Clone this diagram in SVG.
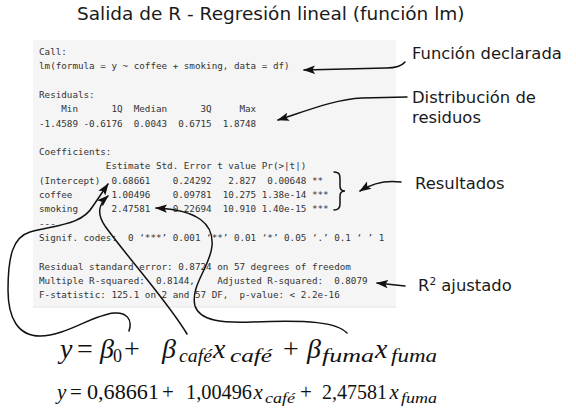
<svg xmlns="http://www.w3.org/2000/svg" width="576" height="417" viewBox="0 0 576 417">
<defs>
<marker id="ah" markerUnits="userSpaceOnUse" markerWidth="12" markerHeight="10" viewBox="0 0 12 10" refX="11" refY="5" orient="auto">
<path d="M0,0.8 L12,5 L0,9.2 L2.5,5 Z" fill="#111"/>
</marker>
<style>
.code{font-family:"DejaVu Sans Mono","Liberation Mono",monospace;font-size:9.25px;fill:#333;white-space:pre}
.lbl{font-family:"DejaVu Sans",Verdana,sans-serif;font-size:16.4px;fill:#1a1a1a}
.title{font-family:"DejaVu Sans",Verdana,sans-serif;font-size:18.5px;fill:#1a1a1a}
.conn{fill:none;stroke:#111;stroke-width:1.5;stroke-linecap:round}
.arr{marker-end:url(#ah)}
.m{font-family:"Liberation Serif","Times New Roman",serif;fill:#111}
.mi{font-style:italic}
</style>
</defs>
<rect width="576" height="417" fill="#fff"/>
<text class="title" x="77" y="20">Salida de R - Regresión lineal (función lm)</text>

<g id="routput">
<rect x="33" y="40" width="363" height="267" fill="#f5f5f5"/>
<line x1="33" y1="307" x2="396" y2="307" stroke="#e4e4e4" stroke-width="1"/>
<text class="code" xml:space="preserve" x="39" y="55">Call:</text>
<text class="code" xml:space="preserve" x="39" y="69.3">lm(formula = y ~ coffee + smoking, data = df)</text>
<text class="code" xml:space="preserve" x="39" y="97.9">Residuals:</text>
<text class="code" xml:space="preserve" x="39" y="112.2">    Min      1Q  Median      3Q     Max </text>
<text class="code" xml:space="preserve" x="39" y="126.5">-1.4589 -0.6176  0.0043  0.6715  1.8748 </text>
<text class="code" xml:space="preserve" x="39" y="155.1">Coefficients:</text>
<text class="code" xml:space="preserve" x="39" y="169.4">            Estimate Std. Error t value Pr(&gt;|t|)    </text>
<text class="code" xml:space="preserve" x="39" y="183.7">(Intercept)  0.68661    0.24292   2.827  0.00648 ** </text>
<text class="code" xml:space="preserve" x="39" y="198">coffee       1.00496    0.09781  10.275 1.38e-14 ***</text>
<text class="code" xml:space="preserve" x="39" y="212.3">smoking      2.47581    0.22694  10.910 1.40e-15 ***</text>
<text class="code" xml:space="preserve" x="39" y="226.6">---</text>
<text class="code" xml:space="preserve" x="39" y="240.9">Signif. codes:  0 ‘***’ 0.001 ‘**’ 0.01 ‘*’ 0.05 ‘.’ 0.1 ‘ ’ 1</text>
<text class="code" xml:space="preserve" x="39" y="269.5">Residual standard error: 0.8724 on 57 degrees of freedom</text>
<text class="code" xml:space="preserve" x="39" y="283.8">Multiple R-squared:  0.8144,    Adjusted R-squared:  0.8079 </text>
<text class="code" xml:space="preserve" x="39" y="298.1">F-statistic: 125.1 on 2 and 57 DF,  p-value: &lt; 2.2e-16</text>
</g>

<g id="brace">
<path class="conn" d="M334,172 C340,172 340,175 340,180 L340,186 C340,190 342,191 345,191 C342,191 340,192 340,196 L340,204 C340,208 338,210 334,210"/>
</g>

<g id="label-funcion"><text class="lbl" x="412" y="59">Función declarada</text></g>
<g id="label-distribucion"><text class="lbl" x="412" y="103">Distribución de</text><text class="lbl" x="412" y="123">residuos</text></g>
<g id="label-resultados"><text class="lbl" x="415" y="189">Resultados</text></g>
<g id="label-r2"><text class="lbl" x="418" y="291">R<tspan font-size="10.5" dy="-6.5">2</tspan><tspan dy="6.5"> ajustado</tspan></text></g>

<g id="eq1">
<text class="m mi" x="60" y="358" font-size="28">y</text>
<text class="m" x="77" y="358" font-size="28">=</text>
<text class="m mi" x="100" y="358" font-size="28">β</text>
<text class="m" x="113" y="362" font-size="18">0</text>
<text class="m" x="124" y="358" font-size="28">+</text>
<text class="m mi" x="162" y="358" font-size="28">β</text>
<text class="m mi" x="179" y="362" font-size="18" textLength="33" lengthAdjust="spacingAndGlyphs">café</text>
<text class="m mi" x="213" y="358" font-size="28">x</text>
<text class="m mi" x="230" y="362" font-size="18" textLength="42" lengthAdjust="spacingAndGlyphs">café</text>
<text class="m" x="283" y="358" font-size="28">+</text>
<text class="m mi" x="307" y="358" font-size="28">β</text>
<text class="m mi" x="322" y="362" font-size="18" textLength="52" lengthAdjust="spacingAndGlyphs">fuma</text>
<text class="m mi" x="375" y="358" font-size="28">x</text>
<text class="m mi" x="391" y="362" font-size="18" textLength="46" lengthAdjust="spacingAndGlyphs">fuma</text>
</g>

<g id="eq2">
<text class="m mi" x="57" y="399" font-size="21">y</text>
<text class="m" x="70" y="399" font-size="21">=</text>
<text class="m" x="87" y="399" font-size="21" textLength="72" lengthAdjust="spacingAndGlyphs">0,68661</text>
<text class="m" x="162" y="399" font-size="21">+</text>
<text class="m" x="186" y="399" font-size="21" textLength="66" lengthAdjust="spacingAndGlyphs">1,00496</text>
<text class="m mi" x="253.5" y="399" font-size="21">x</text>
<text class="m mi" x="265" y="403" font-size="14" textLength="30" lengthAdjust="spacingAndGlyphs">café</text>
<text class="m" x="300" y="399" font-size="21">+</text>
<text class="m" x="322" y="399" font-size="21" textLength="65" lengthAdjust="spacingAndGlyphs">2,47581</text>
<text class="m mi" x="389.5" y="399" font-size="21">x</text>
<text class="m mi" x="401" y="403" font-size="14" textLength="36" lengthAdjust="spacingAndGlyphs">fuma</text>
</g>

<g id="connectors">
<path class="conn arr" d="M405,62 C401,67 395,68 386,68 L304,70"/>
<path class="conn arr" d="M407,97 L362,98 C336,99 306,111 278,120"/>
<path class="conn arr" d="M401,182 C386,180 371,184 360,191"/>
<path class="conn arr" d="M405,286 L377,283"/>
<path class="conn arr" d="M129,331 C133,319 126,312 114,313 C92,315 66,336 40,336 C18,336 8,318 8,290 C8,256 13,237 30,232 C56,225 82,225 93,206 L108,184"/>
<path class="conn arr" d="M187,334 C168,302 128,258 105,226 C97,214 98,205 108,196"/>
<path class="conn arr" d="M347,333 C336,322 310,320 252,322 C222,323 200,321 195,306 C190,286 210,267 212,246 C214,224 198,210 156,208"/>
</g>
</svg>
